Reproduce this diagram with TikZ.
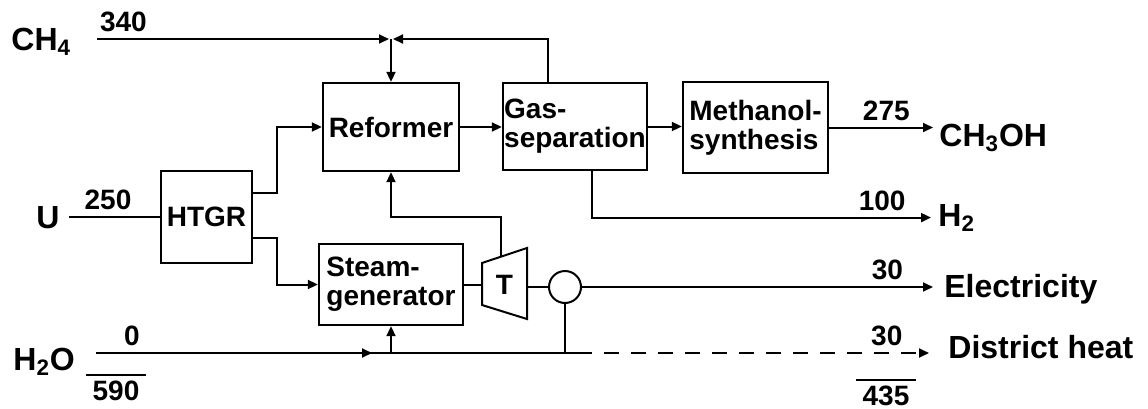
\documentclass[tikz,border=0pt]{standalone}
\usepackage{fontspec}
\setmainfont{Liberation Sans}
\usepackage{tikz}
\usetikzlibrary{arrows.meta, positioning, calc}

\begin{document}
\begin{tikzpicture}[
  x=0.5pt, y=-0.5pt,
  every node/.style={font=\bfseries},
  unit/.style={draw, line width=1.2pt, inner sep=0pt, align=left, font=\fontsize{14}{14.5}\selectfont\bfseries},
  lbl/.style={inner sep=0pt, anchor=base west, font=\fontsize{16}{18}\selectfont\bfseries},
  num/.style={inner sep=3pt, font=\fontsize{14}{16}\selectfont\bfseries},
  flow/.style={line width=1pt},
  arr/.style={flow, -{Triangle[length=5pt, width=4.5pt]}}
]
  \useasboundingbox (0,0) rectangle (1148,408);

  \node[unit, minimum width=45.5pt, minimum height=46pt] (htgr) at (206.5,217) {HTGR};
  \node[unit, minimum width=68pt, minimum height=44pt] (ref) at (391,127) {Reformer};
  \node[unit, minimum width=72pt, minimum height=43.5pt] (gas) at (575,126.5) {Gas-\\separation};
  \node[unit, minimum width=72.5pt, minimum height=45.5pt] (meth) at (755.5,127.5) {Methanol-\\synthesis};
  \node[unit, minimum width=72pt, minimum height=40.5pt] (sg) at (391,284.5) {Steam-\\generator};
  \node[unit, circle, line width=1pt, minimum size=16pt] (gen) at (565,287) {};

  % turbine
  \coordinate (tq1) at (482,263);
  \coordinate (tq2) at (527,248);
  \coordinate (tq3) at (527,319);
  \coordinate (tq4) at (482,305);
  \draw[flow] (tq1) -- (tq2) -- (tq3) -- (tq4) -- cycle;
  \node[font=\fontsize{14}{14}\selectfont\bfseries] (turb) at (504.5,285) {T};
  \coordinate (ttop) at ($(tq1)!0.42!(tq2)$);

  \node[lbl] (ch4) at (11,50) {CH\textsubscript{4}};
  \node[lbl] (u) at (36,228.5) {U};
  \node[lbl] (h2o) at (13,370) {H\textsubscript{2}O};
  \node[lbl] (ch3oh) at (939,146) {CH\textsubscript{3}OH};
  \node[lbl] (h2) at (938,226) {H\textsubscript{2}};
  \node[lbl] (elec) at (944,297.5) {Electricity};
  \node[lbl] (heat) at (948,358) {District heat};

  \node[num, inner ysep=2.5pt, anchor=base] (tin) at (116,400) {590};
  \node[num, inner ysep=2.5pt, anchor=base] (tout) at (886,405) {435};
  \draw[flow] (tin.north west) -- (tin.north east);
  \draw[flow] (tout.north west) -- (tout.north east);

  \coordinate (ch4in) at (97,39);
  \coordinate (h2oin) at (96,353);
  \coordinate (mix) at (ref.north |- ch4in);
  \coordinate (sgin) at (sg.south |- h2oin);
  \coordinate (heatjoin) at (gen.south |- h2oin);

  \draw[arr, shorten >=1pt] (ch4in) -- (mix) node[num, above, pos=.09] {340};
  \draw[arr, shorten >=1pt] ([xshift=-13.5pt]gas.north) |- (mix);
  \draw[arr] (mix) -- (ref.north);
  \draw[flow] ([xshift=4.5pt]u.east |- htgr.west) -- (htgr.west) node[num, above, pos=.43] {250};
  \draw[arr] ([yshift=12pt]htgr.east) -- ++(24,0) |- (ref.west);
  \draw[arr] ([yshift=-10.5pt]htgr.east) -- ++(24,0) |- (sg.west);
  \draw[arr] (ref.east) -- (ref.east -| gas.west);
  \draw[arr] (gas.east) -- (gas.east -| meth.west);
  \draw[arr] (meth.east) -- ([xshift=-3pt]meth.east -| ch3oh.west) node[num, above, pos=.55] {275};
  \draw[arr] ([xshift=8.5pt]gas.south) |- ([xshift=-3.5pt]h2.west) node[num, above, pos=.928] {100};
  \draw[flow] (sg.east) -- (sg.east -| tq1);
  \draw[arr] (ttop) -- ++(0,-39.6) -| (ref.south);
  \draw[flow] (gen.west -| tq2) -- (gen.west);
  \draw[arr] (gen.east) -- ([xshift=-5.5pt]gen.east -| elec.west) node[num, above, pos=.87] {30};
  \draw[flow] (h2oin) -- ([xshift=6pt]heatjoin);
  \draw[arr] (h2oin) -- ([xshift=-9.5pt]sgin) node[num, above, pos=.13] {0};
  \draw[arr] (sgin) -- (sg.south);
  \draw[flow] (gen.south) -- (heatjoin);
  \draw[arr, dash pattern=on 7.5pt off 6pt] ([xshift=6pt]heatjoin) -- ([xshift=-9.5pt]heatjoin -| heat.west) node[num, above, pos=.88] {30};
\end{tikzpicture}
\end{document}
